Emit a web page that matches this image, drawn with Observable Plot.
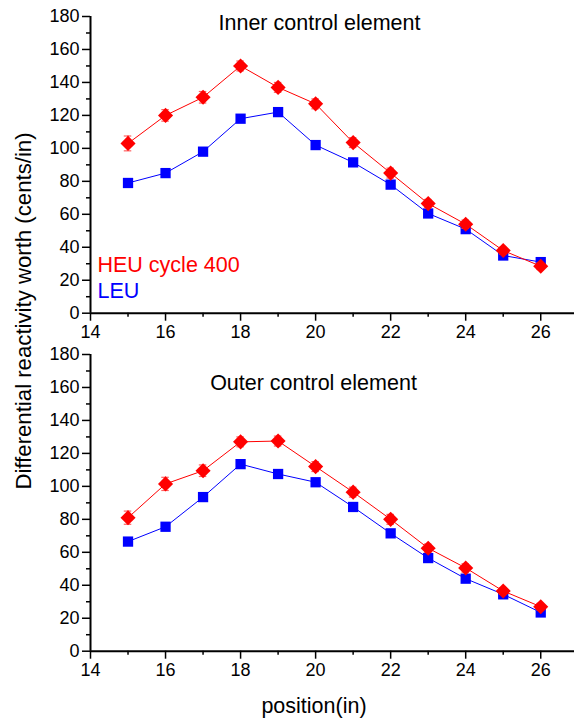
<!DOCTYPE html>
<html>
<head>
<meta charset="utf-8">
<script src="https://cdn.jsdelivr.net/npm/d3@7"></script>
<script src="https://cdn.jsdelivr.net/npm/@observablehq/plot@0.6"></script>
<style>
  html, body { margin: 0; padding: 0; background: #fff; }
  #wrap { position: relative; width: 574px; height: 722px; font-family: "Liberation Sans", Arial, sans-serif; color: #000; overflow: hidden; }
  #top, #bottom { position: absolute; left: 0; }
  #top { top: 0; }
  #bottom { top: 338px; }
  .lab { position: absolute; font-size: 21.5px; line-height: 1; white-space: nowrap; }
</style>
</head>
<body>
<div id="wrap">
  <div id="top"></div>
  <div id="bottom"></div>
  <div class="lab" id="ytitle" style="left:24px; top:311px; font-size:22.2px; transform: translate(-50%,-50%) rotate(-90deg);">Differential reactivity worth (cents/in)</div>
  <div class="lab" id="xtitle" style="left:314px; top:707px; transform: translate(-50%,-50%);">position(in)</div>
</div>
<script>
const positions = [15, 16, 17, 18, 19, 20, 21, 22, 23, 24, 25, 26];
const innerHEU    = [103, 120, 131, 150, 137, 127, 103.5, 85, 66.5, 54, 38, 28.5];
const innerHEUerr = [4.5, 3.5, 3.5, 3, 3, 3, 3, 3, 2.5, 2.5, 2, 2];
const innerLEU    = [79, 85, 98, 118, 122, 102, 91.5, 78, 60.5, 51, 35, 31];
const outerHEU    = [81, 101.5, 109.5, 127, 127.5, 112, 96.5, 80, 62.5, 50.5, 36.5, 27];
const outerHEUerr = [4, 4, 3.5, 3, 3, 3, 3, 3, 2.5, 2.5, 2, 2];
const outerLEU    = [66.5, 75.5, 93.5, 113.5, 107.5, 102.5, 87.5, 71.5, 56.5, 44, 34.5, 23.5];
const xMajor = [14, 16, 18, 20, 22, 24, 26];
const xMinor = [15, 17, 19, 21, 23, 25];
const yMajor = [0, 20, 40, 60, 80, 100, 120, 140, 160, 180];
const yMinor = [10, 30, 50, 70, 90, 110, 130, 150, 170];
const titles = ["Inner control element", "Outer control element"];
const seriesNames = ["HEU cycle 400", "LEU"];
const RED = "#ff0000", BLUE = "#0000ff";

function panel(heu, err, leu, title, height, mb, titleDx, titleDy, showLegend) {
  const heuRows = positions.map((x, i) => ({x, y: heu[i], e: err[i]}));
  const leuRows = positions.map((x, i) => ({x, y: leu[i]}));
  const marks = [
    Plot.axisY({ticks: yMajor, tickSize: 8, tickPadding: 3, strokeWidth: 1.5, label: null}),
    Plot.axisY({ticks: yMinor, tickSize: 4, tickFormat: () => "", strokeWidth: 1.5, label: null}),
    Plot.axisX({ticks: xMajor, tickSize: 8, tickPadding: 4, strokeWidth: 1.5, label: null}),
    Plot.axisX({ticks: xMinor, tickSize: 4, tickFormat: () => "", strokeWidth: 1.5, label: null}),
    Plot.ruleX([14], {stroke: "#000", strokeWidth: 2}),
    Plot.ruleY([0], {stroke: "#000", strokeWidth: 2}),
    Plot.line(leuRows, {x: "x", y: "y", stroke: BLUE, strokeWidth: 1}),
    Plot.dot(leuRows, {x: "x", y: "y", symbol: "square", r: 5.8, fill: BLUE, stroke: null}),
    Plot.line(heuRows, {x: "x", y: "y", stroke: RED, strokeWidth: 1}),
    Plot.ruleX(heuRows, {x: "x", y1: d => d.y - d.e, y2: d => d.y + d.e, stroke: RED, strokeWidth: 1.2}),
    Plot.ruleY(heuRows, {y: d => d.y + d.e, x1: d => d.x - 0.1, x2: d => d.x + 0.1, stroke: "#ff6060", strokeWidth: 1.2}),
    Plot.ruleY(heuRows, {y: d => d.y - d.e, x1: d => d.x - 0.1, x2: d => d.x + 0.1, stroke: "#ff6060", strokeWidth: 1.2}),
    Plot.dot(heuRows, {x: "x", y: "y", symbol: "diamond2", r: 6.8, fill: RED, stroke: null}),
    Plot.text([title], {text: d => d, frameAnchor: "top", dx: titleDx, dy: titleDy, lineAnchor: "middle", fontSize: 21.5, fill: "#000"})
  ];
  if (showLegend) {
    marks.push(Plot.text([seriesNames[0]], {text: d => d, frameAnchor: "bottom-left", dx: 7, dy: -48, textAnchor: "start", lineAnchor: "middle", fontSize: 21.5, fill: RED}));
    marks.push(Plot.text([seriesNames[1]], {text: d => d, frameAnchor: "bottom-left", dx: 7, dy: -22, textAnchor: "start", lineAnchor: "middle", fontSize: 21.5, fill: BLUE}));
  }
  return Plot.plot({
    width: 574,
    height,
    marginLeft: 90,
    marginRight: 0,
    marginTop: 16,
    marginBottom: mb,
    x: {domain: [14, 26.9]},
    y: {domain: [0, 180]},
    style: {fontFamily: "'Liberation Sans', Arial, sans-serif", fontSize: "18px", color: "#000", background: "#fff"},
    marks
  });
}

document.getElementById("top").append(panel(innerHEU, innerHEUerr, innerLEU, titles[0], 345, 32.3, -13, 6.5, true));
document.getElementById("bottom").append(panel(outerHEU, outerHEUerr, outerLEU, titles[1], 350, 37.3, -19, 29, false));
</script>
</body>
</html>
